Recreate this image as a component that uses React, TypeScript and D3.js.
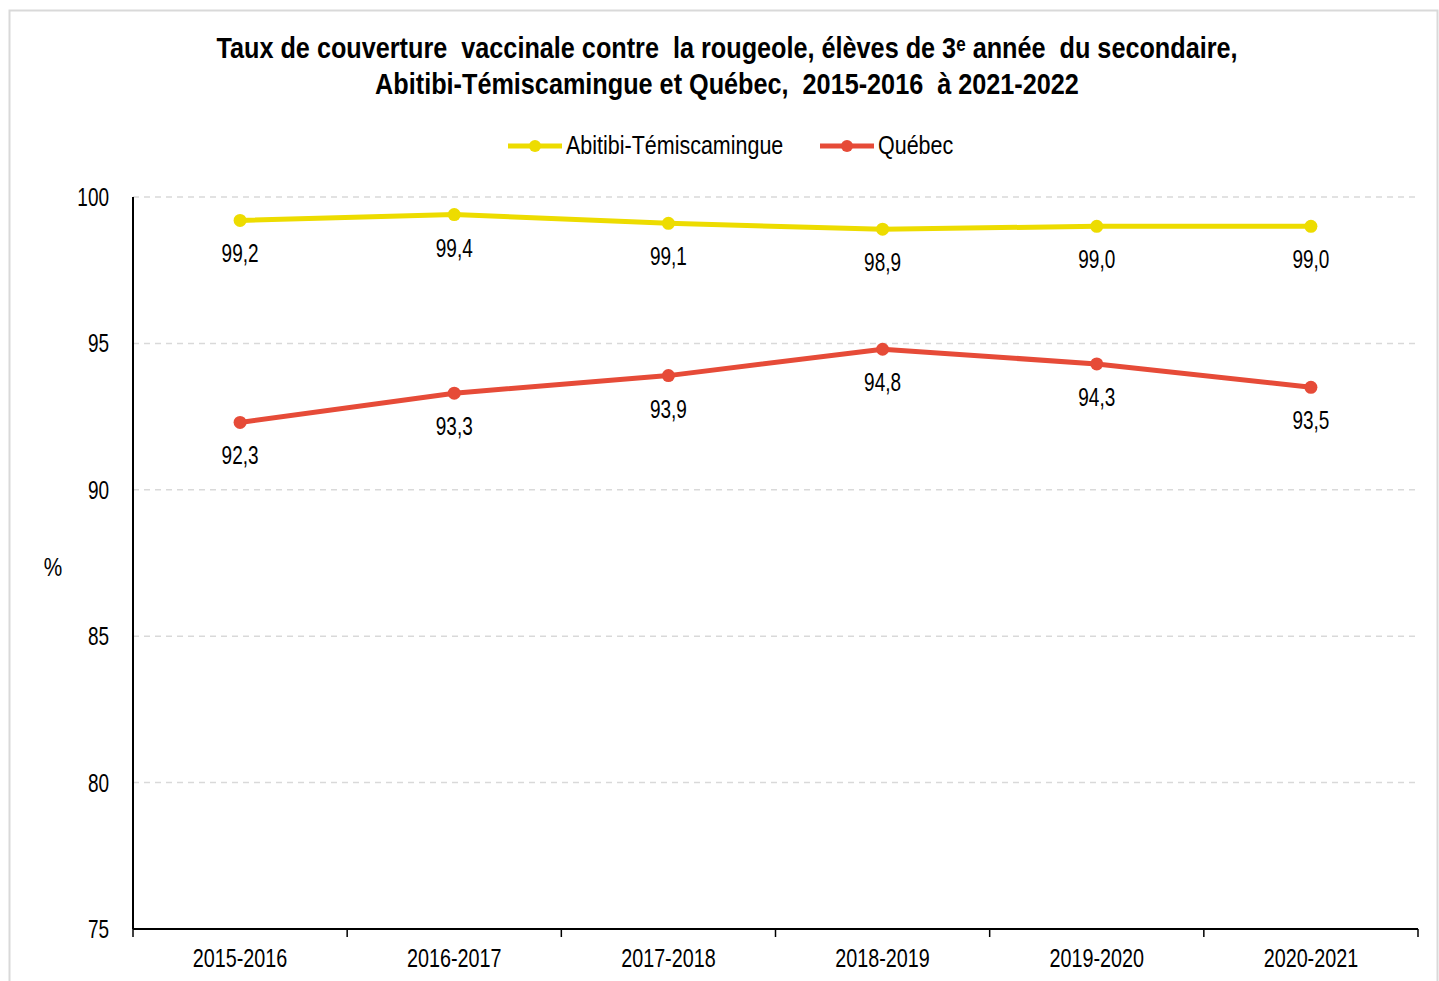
import * as d3 from "d3";
import { useEffect, useRef } from "react";

const categories = ["2015-2016", "2016-2017", "2017-2018", "2018-2019", "2019-2020", "2020-2021"];
const abitibi = [99.2, 99.4, 99.1, 98.9, 99.0, 99.0];
const quebec = [92.3, 93.3, 93.9, 94.8, 94.3, 93.5];
const yTicks = [75, 80, 85, 90, 95, 100];
const titleLines = [
  "Taux de couverture  vaccinale contre  la rougeole, élèves de 3ᵉ année  du secondaire,",
  "Abitibi-Témiscamingue et Québec,  2015-2016  à 2021-2022",
];

const series = [
  { name: "Abitibi-Témiscamingue", values: abitibi, color: "#EDDC00" },
  { name: "Québec", values: quebec, color: "#E64B38" },
];

const W = 1439;
const H = 981;
const margin = { top: 197, right: 21, bottom: 52, left: 133 };
// no Arial Narrow here: squeeze Liberation Sans horizontally instead
const FONT = "'Liberation Sans', Arial, sans-serif";
const fmt = (v: number) => v.toFixed(1).replace(".", ",");

type Sel = d3.Selection<any, any, any, any>;

const narrowText = (
  parent: Sel,
  x: number,
  y: number,
  txt: string,
  size: number,
  squeeze: number,
  anchor = "middle",
  bold = false
) =>
  parent
    .append("text")
    .attr("transform", `translate(${x},${y}) scale(${squeeze},1)`)
    .attr("text-anchor", anchor)
    .attr("font-family", FONT)
    .attr("font-size", size)
    .attr("font-weight", bold ? "bold" : "normal")
    .attr("fill", "#000")
    .style("white-space", "pre")
    .text(txt);

const App = () => {
  const ref = useRef<SVGSVGElement>(null);

  useEffect(() => {
    const svg = d3.select(ref.current);
    svg.selectAll("*").remove();

    const x = d3
      .scaleBand()
      .domain(categories)
      .range([margin.left, W - margin.right]);
    const y = d3
      .scaleLinear()
      .domain([75, 100])
      .range([H - margin.bottom, margin.top]);

    // frame
    svg
      .append("rect")
      .attr("x", 9.5)
      .attr("y", 10.5)
      .attr("width", 1428)
      .attr("height", 990)
      .attr("fill", "white")
      .attr("stroke", "#d9d9d9")
      .attr("stroke-width", 2);

    // title
    titleLines.forEach((t, i) => narrowText(svg, 727, 58 + i * 36, t, 29, 0.87, "middle", true));

    // legend
    const legendX = [508, 820];
    series.forEach((s, i) => {
      const g = svg.append("g").attr("transform", `translate(${legendX[i]},146)`);
      g.append("line")
        .attr("x1", 0)
        .attr("x2", 54)
        .attr("stroke", s.color)
        .attr("stroke-width", 5);
      g.append("circle").attr("cx", 27).attr("r", 6).attr("fill", s.color);
      narrowText(g, 58, 8, s.name, 25, 0.86, "start");
    });

    // grid
    svg
      .append("g")
      .selectAll("line")
      .data(yTicks.filter((t) => t > 75))
      .join("line")
      .attr("x1", margin.left)
      .attr("x2", W - margin.right)
      .attr("y1", (d) => y(d))
      .attr("y2", (d) => y(d))
      .attr("stroke", "#d9d9d9")
      .attr("stroke-width", 1.5)
      .attr("stroke-dasharray", "6,5");

    // y axis
    svg
      .append("line")
      .attr("x1", margin.left)
      .attr("x2", margin.left)
      .attr("y1", y(100))
      .attr("y2", y(75))
      .attr("stroke", "#000")
      .attr("stroke-width", 2);
    const yLab = svg.append("g");
    yTicks.forEach((t) => narrowText(yLab, 109, y(t) + 9, String(t), 26, 0.73, "end"));

    // x axis
    const xAxisG = svg.append("g").attr("transform", `translate(0,${H - margin.bottom})`);
    xAxisG
      .append("line")
      .attr("x1", margin.left)
      .attr("x2", W - margin.right)
      .attr("stroke", "#000")
      .attr("stroke-width", 2);
    const bounds = [...categories.map((c) => x(c) as number), W - margin.right];
    xAxisG
      .selectAll("line.tick")
      .data(bounds)
      .join("line")
      .attr("class", "tick")
      .attr("x1", (d) => d)
      .attr("x2", (d) => d)
      .attr("y1", 0)
      .attr("y2", 8)
      .attr("stroke", "#000")
      .attr("stroke-width", 1.5);
    categories.forEach((c) =>
      narrowText(xAxisG, (x(c) as number) + x.bandwidth() / 2, 38, c, 25.5, 0.775)
    );

    // y title
    narrowText(svg, 53, 576, "%", 26, 0.8);

    const cx = (i: number) => (x(categories[i]) as number) + x.bandwidth() / 2;
    const line = d3
      .line<number>()
      .x((_, i) => cx(i))
      .y((d) => y(d));

    series.forEach((s) => {
      const g = svg.append("g");
      g.append("path")
        .datum(s.values)
        .attr("d", line)
        .attr("fill", "none")
        .attr("stroke", s.color)
        .attr("stroke-width", 5)
        .attr("stroke-linejoin", "round");
      g.selectAll("circle")
        .data(s.values)
        .join("circle")
        .attr("cx", (_, i) => cx(i))
        .attr("cy", (d) => y(d))
        .attr("r", 6.5)
        .attr("fill", s.color);
      s.values.forEach((v, i) => narrowText(g, cx(i), y(v) + 42, fmt(v), 25, 0.76));
    });
  }, []);

  return (
    <svg
      ref={ref}
      width={W}
      height={H}
      style={{ position: "absolute", left: 0, top: 0, background: "white" }}
    />
  );
};

export default App;
